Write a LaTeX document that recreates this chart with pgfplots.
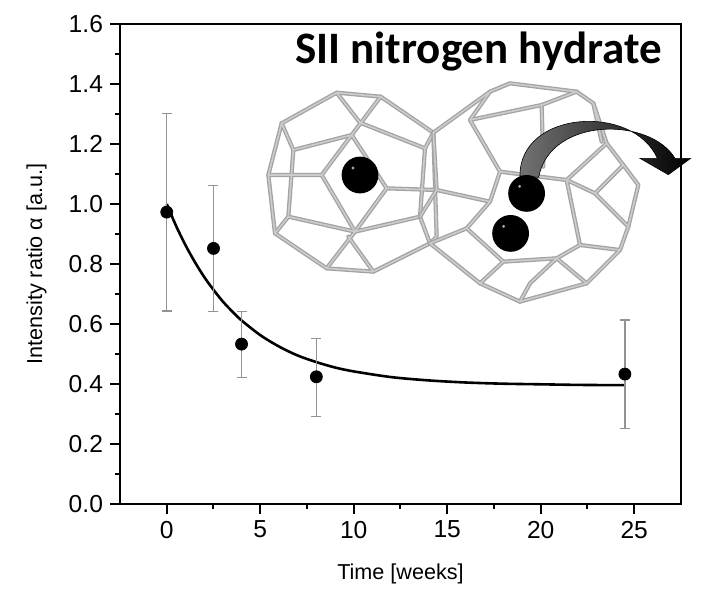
\documentclass[border=0pt]{standalone}
\usepackage{fontspec}
\setmainfont{Liberation Sans}
\newfontfamily\titlefont{Carlito}
\usepackage{pgfplots}
\usepackage{pgfplotstable}
\pgfplotsset{compat=1.18}

\pgfplotstableread{
t     y      ep     em
0     0.973  0.329  0.330
2.5   0.852  0.209  0.210
4     0.533  0.108  0.111
8     0.424  0.128  0.132
24.5  0.433  0.180  0.181
}\datatable

\begin{document}
\begin{tikzpicture}[cage/.style={draw=gray!72, line width=2.1pt, line cap=round, line join=round},
                    cagein/.style={draw=gray!40, line width=0.8pt, line cap=round, line join=round}]
\useasboundingbox (0,0) rectangle (360pt,-295pt);
\begin{axis}[
  at={(60pt,-252pt)}, anchor=south west,
  scale only axis, width=280.5pt, height=240pt,
  xmin=-2.5, xmax=27.5, ymin=0, ymax=1.6,
  xtick={0,5,10,15,20,25}, minor x tick num=1,
  ytick={0,0.2,0.4,0.6,0.8,1.0,1.2,1.4,1.6}, minor y tick num=1,
  xtick pos=bottom, ytick pos=left,
  tick align=outside,
  major tick length=5pt, minor tick length=2.5pt,
  every tick/.style={black, line width=1pt},
  axis line style={line width=1.1pt},
  /pgf/number format/assume math mode=true,
  tick label style={font=\fontsize{12.3}{14}\selectfont},
  yticklabel style={/pgf/number format/.cd, fixed, fixed zerofill, precision=1},
  label style={font=\fontsize{10.8}{13}\selectfont},
  xlabel={Time [weeks]},
  xlabel style={at={(axis description cs:0.5,-0.1583)}, anchor=base},
  ylabel={Intensity ratio α [a.u.]},
  ylabel style={at={(axis description cs:-0.139,0.5)}, anchor=base, rotate=0},
  clip=false,
]
\addplot[black, line width=1.3pt, smooth, no marks] coordinates {
  (0,1.0) (0.5,0.927) (1,0.863) (1.5,0.807) (2,0.757) (2.5,0.714) (3,0.675)
  (3.5,0.642) (4,0.612) (5,0.563) (6,0.525) (7,0.495) (8,0.473) (9,0.455)
  (10,0.442) (12,0.423) (14,0.412) (16,0.405) (18,0.401) (20,0.399)
  (22,0.397) (24.5,0.396)
};
\addplot[only marks, mark=*, mark size=3pt, black,
  error bars/.cd, y dir=both, y explicit,
  error bar style={gray!85, line width=0.7pt},
  error mark options={rotate=90, mark size=2.5pt, gray!85, line width=0.7pt}]
  table[x=t, y=y, y error plus=ep, y error minus=em] {\datatable};
\end{axis}

% title
\node[anchor=base east, inner sep=0pt, font=\titlefont\bfseries\fontsize{22.5}{26}\selectfont]
  at (331pt,-31.5pt) {SII nitrogen hydrate};

% left cage (zoom coords)
\begin{scope}[shift={(130pt,-40pt)}, x=1pt/6, y=-1pt/6]
 \foreach \st in {cage,cagein}{
  \path[\st] (65,130)--(230,38)--(362,50)--(520,158);
  \path[\st] (230,38)--(300,128)--(495,205)--(520,158);
  \path[\st] (362,50)--(275,165);
  \path[\st] (65,130)--(100,210)--(275,165);
  \path[\st] (65,130)--(25,285)--(45,460)--(200,565)--(340,575)--(510,490)--(480,410)--(495,205);
  \path[\st] (100,210)--(85,410)--(45,460);
  \path[\st] (25,285)--(185,285)--(275,165)--(380,325)--(285,455)--(185,285);
  \path[\st] (85,410)--(285,455)--(480,410);
  \path[\st] (285,455)--(200,565);
  \path[\st] (265,470)--(340,575);
  \path[\st] (380,325)--(530,330);
  \path[\st] (520,158)--(530,470)--(510,490);
 }
\end{scope}
% right cage
\begin{scope}[shift={(210pt,-35pt)}, x=1pt/6, y=-1pt/6]
 \foreach \st in {cage,cagein}{
  \path[\st] (40,188)--(210,65)--(270,40)--(470,65)--(520,100)--(560,220)--(610,285)--(655,345)--(625,470)--(600,540)--(500,640)--(300,695)--(180,640)--(30,520);
  \path[\st] (210,65)--(150,150)--(365,105)--(470,65);
  \path[\st] (150,150)--(240,305)--(440,330)--(560,220);
  \path[\st] (365,105)--(370,290);
  \path[\st] (40,188)--(50,360)--(210,395)--(240,305);
  \path[\st] (50,360)--(0,440);
  \path[\st] (210,395)--(140,475)--(250,575)--(410,565)--(480,525)--(440,330);
  \path[\st] (140,475)--(30,520);
  \path[\st] (250,575)--(180,640);
  \path[\st] (410,565)--(500,640);
  \path[\st] (480,525)--(600,540);
  \path[\st] (440,330)--(525,370)--(610,285);
  \path[\st] (525,370)--(625,470);
  \path[\st] (520,100)--(545,215);
  \path[\st] (410,565)--(330,640)--(300,695);
 }
 % arrow
 \shade[left color=black!55, right color=black, draw=black, line width=0.3pt]
   (300,318) .. controls (298,120) and (640,100) .. (712,265) -- (660,265) -- (745,314) -- (812,265) -- (765,265)
   .. controls (690,140) and (390,140) .. (356,322) -- cycle;
\end{scope}

% balls
\foreach \bx/\by in {180/-87.5, 263.3/-96.7, 255.3/-116.7}{
  \fill[black] (\bx pt,\by pt) circle (9.2pt);
  \fill[gray!70] (\bx pt-3.5pt,\by pt+3.5pt) circle (0.8pt);
}
\end{tikzpicture}
\end{document}
